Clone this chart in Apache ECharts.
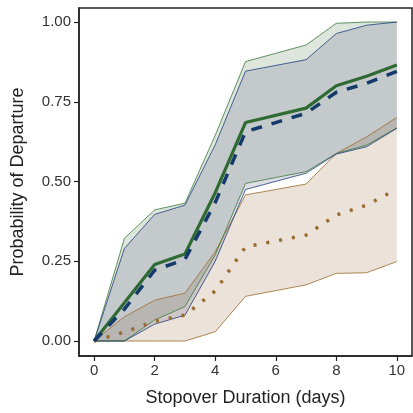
<!DOCTYPE html>
<html>
<head>
<meta charset="utf-8">
<script src="https://cdn.jsdelivr.net/npm/echarts@6/dist/echarts.min.js"></script>
<style>
html,body{margin:0;padding:0;background:#fff;}
#chart{width:413px;height:413px;}
</style>
</head>
<body>
<div id="chart"></div>
<script>
// ---- data ----
var days = [0, 1, 2, 3, 4, 5, 7, 8, 9, 10];

var greenMean  = [0, 0.12, 0.24, 0.273, 0.465, 0.685, 0.73, 0.80, 0.83, 0.865];
var greenUpper = [0, 0.322, 0.411, 0.432, 0.645, 0.876, 0.928, 0.996, 1.0, 1.0];
var greenLower = [0, 0.0, 0.066, 0.108, 0.27, 0.494, 0.531, 0.588, 0.614, 0.668];

var blueMean  = [0, 0.10, 0.222, 0.256, 0.434, 0.656, 0.714, 0.78, 0.808, 0.845];
var blueUpper = [0, 0.29, 0.397, 0.426, 0.615, 0.846, 0.882, 0.964, 0.99, 1.0];
var blueLower = [0, 0.0, 0.053, 0.081, 0.25, 0.475, 0.526, 0.586, 0.609, 0.667];

var orangeMean  = [0, 0.028, 0.062, 0.081, 0.157, 0.295, 0.332, 0.395, 0.426, 0.476];
var orangeUpper = [0, 0.076, 0.128, 0.150, 0.28, 0.458, 0.492, 0.588, 0.640, 0.701];
var orangeLower = [0, 0, 0, 0, 0.029, 0.14, 0.176, 0.212, 0.214, 0.249];

var xTicks = [0, 2, 4, 6, 8, 10];
var yTicks = [0, 0.25, 0.5, 0.75, 1.0];

var xTitle = 'Stopover Duration (days)';
var yTitle = 'Probability of Departure';

// ---- build ----
function pairs(vals) { return days.map(function (d, i) { return [d, vals[i]]; }); }
function triples(lo, up) { return days.map(function (d, i) { return [d, lo[i], up[i]]; }); }

function bandFill(lower, upper, fill, z) {
  var data = triples(lower, upper);
  return {
    type: 'custom', silent: true, z: z,
    data: data,
    encode: { x: 0, y: [1, 2] },
    renderItem: function (params, api) {
      if (params.dataIndex !== 0) return null;
      var pts = [];
      for (var i = 0; i < data.length; i++) pts.push(api.coord([data[i][0], data[i][2]]));
      for (var j = data.length - 1; j >= 0; j--) pts.push(api.coord([data[j][0], data[j][1]]));
      return { type: 'polygon', shape: { points: pts }, style: { fill: fill, stroke: null } };
    }
  };
}
function edge(vals, color, z) {
  return { type: 'line', data: pairs(vals), symbol: 'none', silent: true, z: z,
           lineStyle: { color: color, width: 0.8 } };
}

var series = [
  bandFill(orangeLower, orangeUpper, 'rgba(155,110,65,0.2)', 2),
  bandFill(greenLower, greenUpper, 'rgba(70,110,60,0.18)', 3),
  bandFill(blueLower, blueUpper, 'rgba(97,92,135,0.2)', 4),
  edge(orangeLower, '#9c6a2c', 5), edge(orangeUpper, '#9c6a2c', 5),
  edge(greenLower, '#3a7a3c', 5), edge(greenUpper, '#3a7a3c', 5),
  edge(blueLower, '#1e3f7c', 5), edge(blueUpper, '#1e3f7c', 5),
  { type: 'line', data: pairs(orangeMean), symbol: 'none', z: 6,
    lineStyle: { color: '#9a6a2e', width: 3.5, type: [3, 10], cap: 'butt' } },
  { type: 'line', data: pairs(greenMean), symbol: 'none', z: 7,
    lineStyle: { color: '#2f6a33', width: 3.2 } },
  { type: 'line', data: pairs(blueMean), symbol: 'none', z: 8,
    lineStyle: { color: '#143a6b', width: 3.5, type: [11, 10], cap: 'butt' } }
];

var chart = echarts.init(document.getElementById('chart'), null, { renderer: 'canvas' });
var font = '"Liberation Sans", Arial, sans-serif';
chart.setOption({
  animation: false,
  backgroundColor: '#fff',
  grid: { left: 79, top: 8, right: 1, bottom: 57, show: true, borderColor: '#222', borderWidth: 1.5,
          containLabel: false, outerBoundsMode: 'none' },
  xAxis: {
    type: 'value', min: -0.5, max: 10.5,
    splitLine: { show: false },
    axisLine: { show: true, onZero: false, lineStyle: { color: '#222', width: 1.5 } },
    axisTick: { show: true, length: 5, customValues: xTicks, lineStyle: { color: '#222', width: 1.2 } },
    axisLabel: { customValues: xTicks, color: '#333', fontSize: 15, fontFamily: font, margin: 7 },
    name: xTitle, nameLocation: 'middle', nameGap: 33,
    nameTextStyle: { color: '#222', fontSize: 18, fontFamily: font }
  },
  yAxis: {
    type: 'value', min: -0.047, max: 1.044,
    splitLine: { show: false },
    axisLine: { show: true, onZero: false, lineStyle: { color: '#222', width: 1.5 } },
    axisTick: { show: true, length: 5, customValues: yTicks, lineStyle: { color: '#222', width: 1.2 } },
    axisLabel: { customValues: yTicks, color: '#333', fontSize: 15, fontFamily: font, margin: 8,
                 formatter: function (v) { return v.toFixed(2); } },
    name: yTitle, nameLocation: 'middle', nameGap: 52, nameRotate: 90,
    nameTextStyle: { color: '#222', fontSize: 18, fontFamily: font }
  },
  series: series
});
</script>
</body>
</html>
